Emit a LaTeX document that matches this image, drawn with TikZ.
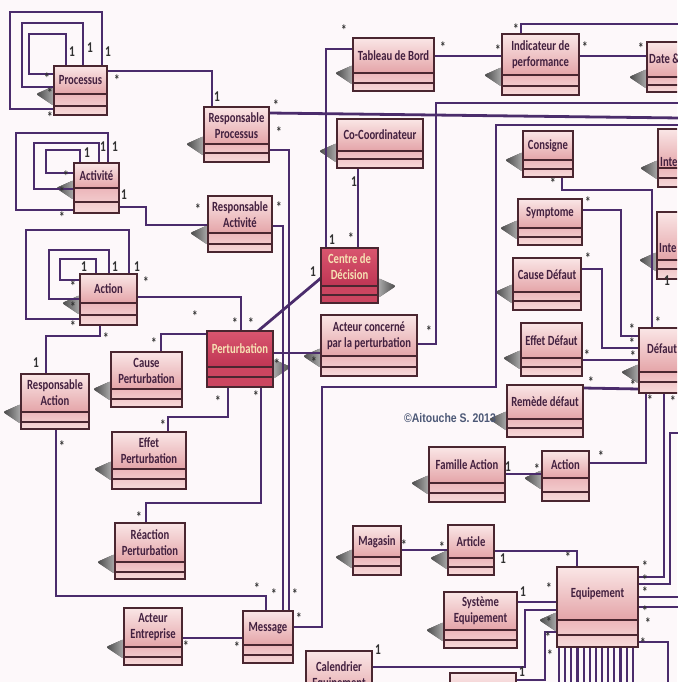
\documentclass[tikz,border=0pt]{standalone}
\usepackage{fontspec}
\setmainfont{Carlito}[FakeStretch=0.76]
\newfontfamily\cpfont{Liberation Sans}[FakeStretch=0.84]

\definecolor{bgc}{HTML}{FDF8FA}
\definecolor{linec}{HTML}{4B2C6C}
\definecolor{framec}{HTML}{4A2630}
\definecolor{pkTop}{HTML}{FAE6E6}
\definecolor{pkBot}{HTML}{E4A4A8}
\definecolor{pkBa}{HTML}{ECB6BA}
\definecolor{pkBb}{HTML}{F7DADA}
\definecolor{rdTop}{HTML}{D9566F}
\definecolor{rdBot}{HTML}{BF3554}
\definecolor{rdBody}{HTML}{CB4560}
\definecolor{txtc}{HTML}{42203F}
\definecolor{rdtxt}{HTML}{F7E2B4}
\definecolor{multc}{HTML}{303030}
\definecolor{cpc}{HTML}{4C5876}

\pgfdeclarelayer{back}
\pgfdeclarelayer{lines}
\pgfsetlayers{back,lines,main}

\tikzset{
  conn/.style={draw=linec, line width=2.8pt},
  boxframe/.style={draw=framec, line width=1.3pt, rectangle, inner sep=0pt, outer sep=0pt},
  sepline/.style={draw=framec, line width=1.1pt},
  pkhead/.style={top color=pkTop, bottom color=pkBot},
  pkbody/.style={top color=pkBa, bottom color=pkBb},
  rdhead/.style={top color=rdTop, bottom color=rdBot},
  rdbody/.style={fill=rdBody},
  pktext/.style={font=\fontsize{14}{16}\selectfont\bfseries, text=txtc, align=center, inner sep=0pt},
  rdtext/.style={font=\fontsize{14}{16}\selectfont\bfseries, text=rdtxt, align=center, inner sep=0pt},
  multlab/.style={font=\fontsize{15}{15}\selectfont\bfseries, text=multc, inner sep=0pt},
  wedgeshadow/.style={left color=black!70, right color=black!20, opacity=0.8},
  wedgeshadowR/.style={left color=black!20, right color=black!70, opacity=0.8},
}

% class box: [style]{name}{x1}{y1}{x2}{y2}{first separator}{second separator}{title}
\newcommand\umlbox[9][pk]{%
  \path[#1head] (#3,#4) rectangle (#5,#7);
  \path[#1body] (#3,#7) rectangle (#5,#6);
  \node[boxframe, anchor=north west, minimum width={(#5-#3)*1pt}, minimum height={(#6-#4)*1pt}] (#2) at (#3,#4) {};
  \draw[sepline] (#3,#7) -- (#5,#7) (#3,#8) -- (#5,#8);
  \node[#1text] (#2-n) at ({(#3+#5)/2},{(#4+#7)/2}) {#9};
}
% drop shadows to the left / right of a box
\newcommand\shL[2]{\fill[wedgeshadow, rounded corners=2pt] (#1-18,#2) -- (#1,#2-8) -- (#1,#2+12) -- cycle;}
\newcommand\shR[2]{\fill[wedgeshadowR, rounded corners=2pt] (#1+18,#2) -- (#1,#2-8) -- (#1,#2+12) -- cycle;}
% multiplicities
\newcounter{mk}
\newcommand\mlab[3]{\stepcounter{mk}\node[multlab] (mk\arabic{mk}) at (#1,#2) {#3};}

\begin{document}
\begin{tikzpicture}[x=1pt, y=-1pt]
\useasboundingbox (0,0) rectangle (677,682);
\clip (0,0) rectangle (677,682);

\begin{pgfonlayer}{back}
\fill[bgc] (0,0) rectangle (677,682);
% ---------- shadows ----------
\shL{54}{94}   \shL{204}{144} \shL{74}{188}  \shL{208}{233}
\shL{80}{303}  \shR{273}{367} \shL{111}{389} \shL{21}{412}
\shL{112}{469} \shL{115}{562} \shL{124}{647}
\shL{353}{73}  \shL{502}{75}  \shL{647}{77}  \shL{337}{151}
\shR{378}{286} \shL{321}{356} \shL{523}{160} \shL{658}{168}
\shL{518}{228} \shL{657}{260} \shL{513}{292} \shL{521}{358}
\shL{639}{372} \shL{507}{419} \shL{429}{483} \shL{542}{478}
\shL{353}{557} \shL{448}{558} \shL{444}{630} \shL{557}{620}
\end{pgfonlayer}

% free ends of connectors leaving the frame
\coordinate (e1) at (680,103);
\coordinate (e2) at (680,118);
\coordinate (e3) at (680,125);
\coordinate (e4) at (680,24);
\coordinate (e5) at (680,433);
\coordinate (e6) at (680,597);
\coordinate (e7) at (680,607);
\coordinate (e8) at (668,690);

% ---------- classes ----------
\umlbox{proc}{54}{66}{107}{115}{94}{106}{Processus}
\umlbox{rproc}{204}{107}{269}{162}{144}{153}{Responsable\\Processus}
\umlbox{acti}{74}{163}{119}{213}{188}{202}{Activité}
\umlbox{racti}{208}{196}{272}{252}{233}{244}{Responsable\\Activité}
\umlbox{act}{80}{274}{137}{325}{303}{315}{Action}
\umlbox[rd]{pert}{207}{331}{273}{387}{367}{377}{Perturbation}
\umlbox{cpert}{111}{352}{182}{407}{389}{399}{Cause\\Perturbation}
\umlbox{ract}{21}{374}{89}{429}{412}{422}{Responsable\\Action}
\umlbox{epert}{112}{432}{186}{489}{469}{479}{Effet\\Perturbation}
\umlbox{reac}{115}{523}{185}{579}{562}{572}{Réaction\\Perturbation}
\umlbox{aent}{124}{608}{182}{665}{647}{657}{Acteur\\Entreprise}
\umlbox{msg}{243}{611}{293}{663}{645}{655}{Message}
\umlbox{cal}{306}{651}{372}{720}{701}{712}{Calendrier\\Equipement}
\umlbox{tab}{353}{38}{434}{91}{73}{83}{Tableau de Bord}
\umlbox{ind}{502}{34}{579}{95}{75}{86}{Indicateur de\\performance}
\umlbox{date}{647}{42}{730}{92}{77}{85}{}
\umlbox{coco}{337}{119}{423}{168}{151}{159}{Co-Coordinateur}
\umlbox[rd]{cdd}{321}{248}{378}{303}{286}{295}{Centre de\\Décision}
\umlbox{acp}{321}{315}{417}{376}{356}{367}{Acteur concerné\\par la perturbation}
\umlbox{cons}{523}{131}{573}{177}{160}{169}{Consigne}
\umlbox{intA}{658}{129}{730}{187}{168}{178}{}
\umlbox{symp}{518}{199}{582}{245}{228}{237}{Symptome}
\umlbox{intB}{657}{212}{730}{279}{260}{269}{}
\umlbox{cdef}{513}{258}{581}{310}{292}{301}{Cause Défaut}
\umlbox{edef}{521}{323}{582}{376}{358}{367}{Effet Défaut}
\umlbox{defaut}{639}{328}{730}{393}{372}{382}{}
\umlbox{rem}{507}{385}{583}{437}{419}{428}{Remède défaut}
\umlbox{fam}{429}{447}{505}{502}{483}{493}{Famille Action}
\umlbox{actB}{542}{451}{589}{501}{478}{492}{Action}
\umlbox{mag}{353}{526}{401}{575}{557}{566}{Magasin}
\umlbox{art}{448}{525}{494}{575}{558}{567}{Article}
\umlbox{syseq}{444}{592}{517}{648}{630}{640}{Système\\Equipement}
\umlbox{equip}{557}{567}{638}{647}{620}{635}{Equipement}
\umlbox{bot}{450}{673}{516}{740}{715}{725}{}

% titles of classes running past the right edge
\node[pktext, anchor=west] (date-t) at (649,59) {Date \&};
\node[pktext, anchor=west] (intA-t) at (660,162) {Inte};
\node[pktext, anchor=west] (intB-t) at (659,248) {Inte};
\node[pktext, anchor=west] (defaut-t) at (647,349) {Défaut};

% ---------- connectors ----------
\begin{pgfonlayer}{lines}
% self associations of Processus
\draw[conn] (proc.west |- 0,74) -- (29,74) -- (29,34) -- (66,34) -- (proc.north -| 66,0);
\draw[conn] (proc.west |- 0,87) -- (22,87) -- (22,23) -- (83,23) -- (proc.north -| 83,0);
\draw[conn] (proc.west |- 0,109) -- (10,109) -- (10,12) -- (102,12) -- (proc.north -| 102,0);
\draw[conn] (proc.east |- 0,71) -| (rproc.north -| 212,0);
% self associations of Activité
\draw[conn] (acti.west |- 0,173) -- (46,173) -- (46,150) -- (80,150) -- (acti.north -| 80,0);
\draw[conn] (acti.west |- 0,189) -- (34,189) -- (34,143) -- (99,143) -- (acti.north -| 99,0);
\draw[conn] (acti.west |- 0,210) -- (16,210) -- (16,133) -- (108,133) -- (acti.north -| 108,0);
\draw[conn] (acti.east |- 0,207) -- (146,207) -- (146,225) -- (racti.west |- 0,225);
% self associations of Action
\draw[conn] (act.west |- 0,280) -- (60,280) -- (60,259) -- (96,259) -- (act.north -| 96,0);
\draw[conn] (act.west |- 0,299) -- (49,299) -- (49,250) -- (109,250) -- (act.north -| 109,0);
\draw[conn] (act.west |- 0,319) -- (26,319) -- (26,230) -- (129,230) -- (act.north -| 129,0);
\draw[conn] (act.east |- 0,297) -| (pert.north -| 241,0);
\draw[conn] (act.south -| 100,0) -- (100,336) -- (46,336) -- (ract.north -| 46,0);
% Perturbation
\draw[conn] (pert.west |- 0,334) -| (cpert.north -| 161,0);
\draw[conn] (pert.north -| 258,0) -- (cdd.west |- 0,278);
\draw[conn] (pert.east |- 0,353) -- (acp.west |- 0,353);
\draw[conn] (pert.south -| 228,0) -- (228,417) -- (168,417) -- (epert.north -| 168,0);
\draw[conn] (pert.south -| 261,0) -- (261,503) -- (146,503) -- (reac.north -| 146,0);
% Message
\draw[conn] (ract.south -| 56,0) -- (56,596) -- (266,596) -- (msg.north -| 266,0);
\draw[conn] (aent.east |- 0,638) -- (msg.west |- 0,638);
\draw[conn] (rproc.east |- 0,150) -- (289,150) -- (msg.north -| 289,0);
\draw[conn] (racti.east |- 0,226) -- (283,226) -- (msg.north -| 283,0);
\draw[conn] (msg.east |- 0,627) -- (322,627) -- (322,387) -- (496,387) -- (496,125) -- (e3);
\draw[conn] (acp.east |- 0,344) -- (436,344) -- (436,103) -- (e1);
\draw[conn] (rproc.east |- 0,113) -- (e2);
% Centre de Décision, Tableau de Bord, Indicateur
\draw[conn] (tab.west |- 0,49) -- (326,49) -- (cdd.north -| 326,0);
\draw[conn] (coco.south -| 358,0) -- (cdd.north -| 358,0);
\draw[conn] (tab.east |- 0,56) -- (ind.west |- 0,56);
\draw[conn] (ind.east |- 0,56) -- (date.west |- 0,56);
\draw[conn] (ind.north -| 521,0) -- (521,24) -- (e4);
% Défaut
\draw[conn] (cons.south -| 562,0) -- (562,190) -- (652,190) -- (defaut.north -| 652,0);
\draw[conn] (symp.east |- 0,210) -- (621,210) -- (621,336) -- (defaut.west |- 0,336);
\draw[conn] (cdef.east |- 0,269) -- (602,269) -- (602,348) -- (defaut.west |- 0,348);
\draw[conn] (edef.east |- 0,360) -- (defaut.west |- 0,360);
\draw[conn] (rem.east |- 0,388) -- (defaut.west |- 0,389);
\draw[conn] (defaut.south -| 646,0) -- (646,463) -- (actB.east |- 0,463);
\draw[conn] (defaut.south -| 664,0) -- (664,577) -- (equip.east |- 0,577);
\draw[conn] (fam.east |- 0,474) -- (actB.west |- 0,474);
% Equipement
\draw[conn] (equip.east |- 0,584) -- (670,584) -- (670,433) -- (e5);
\draw[conn] (equip.east |- 0,597) -- (e6);
\draw[conn] (equip.east |- 0,607) -- (e7);
\draw[conn] (equip.east |- 0,642) -- (668,642) -- (e8);
\draw[conn] (mag.east |- 0,550) -- (art.west |- 0,550);
\draw[conn] (art.east |- 0,551) -| (equip.north -| 577,0);
\draw[conn] (syseq.east |- 0,602) -- (equip.west |- 0,602);
\draw[conn] (cal.east |- 0,667) -- (525,667) -- (525,610) -- (equip.west |- 0,610);
\draw[conn] (bot.east |- 0,680) -- (545,680) -- (545,632) -- (equip.west |- 0,632);
\foreach \i in {0,...,12}{
  \coordinate (eb\i) at ({559+6.15*\i},690);
  \draw[conn, line width=2.1pt] (equip.south -| eb\i) -- (eb\i);
}
\end{pgfonlayer}

% ---------- multiplicities ----------
\mlab{47}{78}{*}  \mlab{50}{93}{*}  \mlab{50}{117}{*}
\mlab{72}{52}{1}  \mlab{90}{48}{1}  \mlab{108}{52}{1}
\mlab{117}{80}{*} \mlab{217}{97}{1}
\mlab{276}{105}{*} \mlab{279}{132}{*}
\mlab{66}{176}{*} \mlab{62}{192}{*} \mlab{62}{217}{*}
\mlab{87}{153}{1} \mlab{103}{147}{1} \mlab{115}{147}{1}
\mlab{124}{195}{1} \mlab{198}{209}{*} \mlab{279}{207}{*}
\mlab{73}{286}{*} \mlab{73}{307}{*} \mlab{73}{326}{*}
\mlab{84}{267}{1} \mlab{115}{267}{1} \mlab{137}{267}{1}
\mlab{146}{282}{*} \mlab{195}{316}{*} \mlab{235}{323}{*} \mlab{251}{323}{*}
\mlab{106}{338}{*} \mlab{36}{363}{1}
\mlab{154}{343}{*}
\mlab{277}{364}{*} \mlab{314}{362}{*} \mlab{218}{401}{*} \mlab{256}{396}{*}
\mlab{313}{272}{1}
\mlab{163}{425}{*} \mlab{139}{517}{*} \mlab{62}{446}{*}
\mlab{257}{588}{*} \mlab{274}{594}{*} \mlab{295}{594}{*} \mlab{299}{618}{*}
\mlab{237}{647}{*} \mlab{186}{646}{*}
\mlab{344}{30}{*} \mlab{443}{47}{*} \mlab{498}{50}{*} \mlab{332}{240}{1}
\mlab{354}{182}{1} \mlab{351}{238}{*}
\mlab{516}{29}{*} \mlab{585}{47}{*} \mlab{641}{48}{*}
\mlab{429}{331}{*}
\mlab{553}{183}{*} \mlab{588}{202}{*}
\mlab{658}{322}{*} \mlab{632}{329}{*} \mlab{632}{343}{*} \mlab{633}{356}{*}
\mlab{633}{385}{*} \mlab{650}{400}{*} \mlab{673}{401}{*}
\mlab{588}{258}{*} \mlab{587}{355}{*} \mlab{591}{382}{*}
\mlab{667}{281}{1}
\mlab{601}{456}{*} \mlab{537}{469}{*} \mlab{508}{467}{1}
\mlab{404}{545}{*} \mlab{442}{547}{*}
\mlab{503}{559}{1} \mlab{568}{557}{*}
\mlab{523}{592}{1} \mlab{549}{588}{*}
\mlab{549}{622}{*} \mlab{548}{637}{*} \mlab{550}{655}{*}
\mlab{645}{566}{*} \mlab{645}{580}{*} \mlab{645}{592}{*}
\mlab{645}{611}{*} \mlab{648}{623}{*} \mlab{643}{643}{*}
\mlab{378}{650}{1} \mlab{522}{672}{1}

% ---------- copyright ----------
\node[font=\cpfont\fontsize{12.5}{13}\selectfont\bfseries, text=cpc, inner sep=0pt] (copyr) at (450,418) {©Aitouche S. 2013};
\end{tikzpicture}
\end{document}
